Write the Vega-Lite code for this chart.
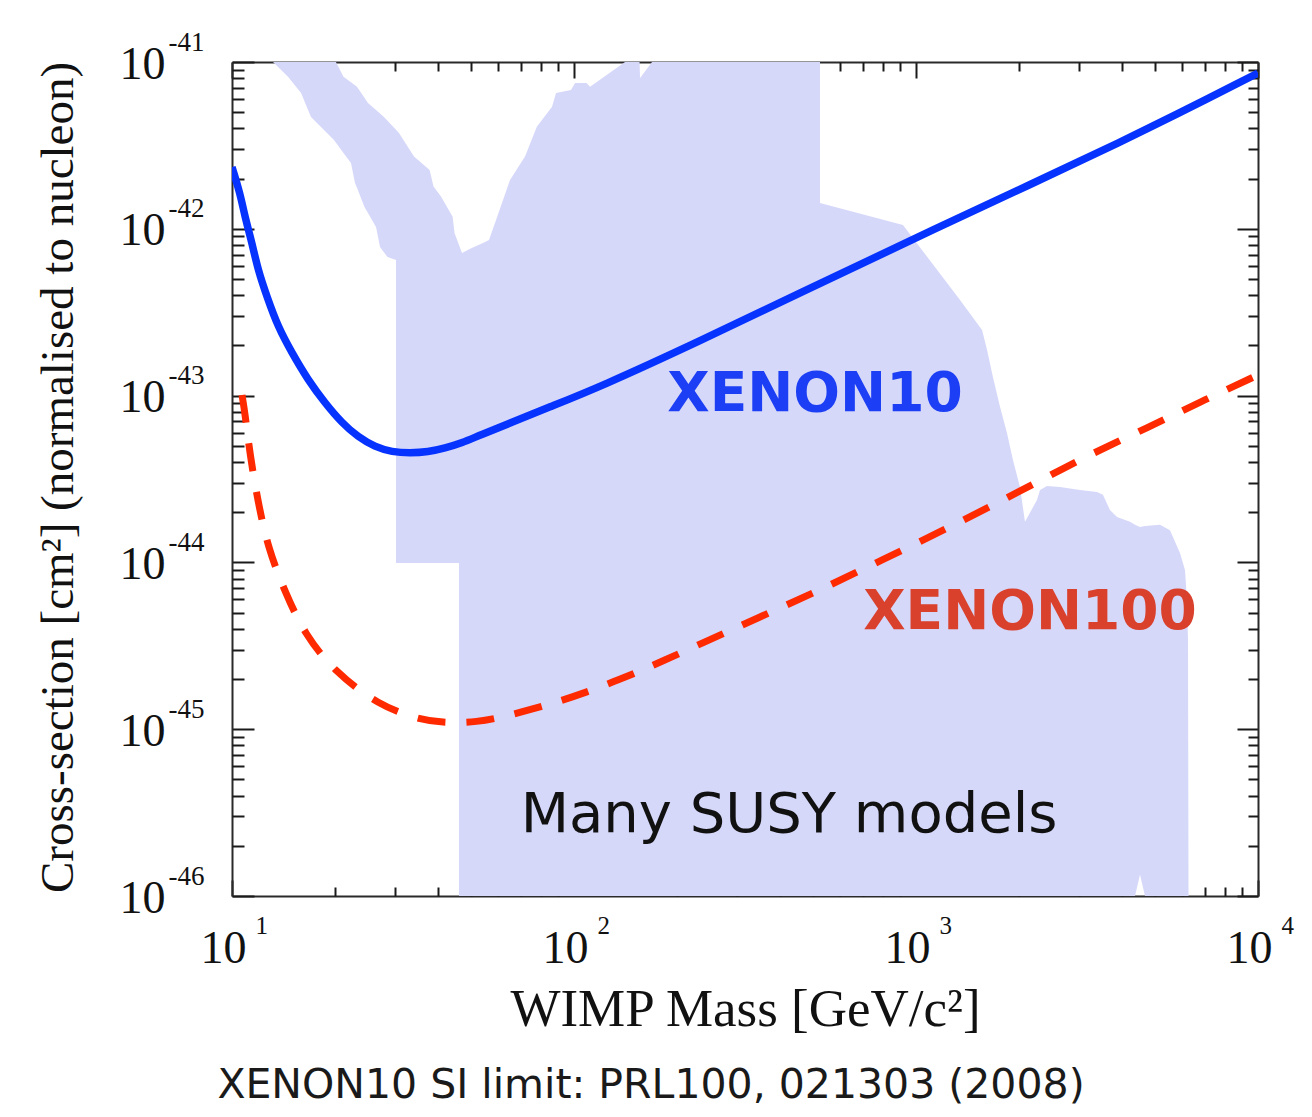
{
  "$schema": "https://vega.github.io/schema/vega-lite/v6.json",
  "width": 1026,
  "height": 834,
  "autosize": {"type": "none"},
  "padding": {"left": 232, "top": 62, "right": 54, "bottom": 221},
  "background": "white",
  "title": {
    "text": "XENON10 SI limit: PRL100, 021303 (2008)",
    "orient": "bottom",
    "anchor": "middle",
    "frame": "group",
    "dx": -94,
    "offset": 30,
    "baseline": "top",
    "font": "DejaVu Sans",
    "fontSize": 41,
    "fontWeight": "normal",
    "color": "#1a1a1a"
  },
  "config": {
    "view": {"stroke": null},
    "axis": {
      "zindex": 1,
      "grid": false,
      "labelFlush": false,
      "labelOverlap": false,
      "labelBound": false,
      "tickColor": "#1a1a1a",
      "tickWidth": 2,
      "domainColor": "#2a2a2a",
      "domainWidth": 2,
      "labelFont": "Liberation Serif",
      "labelColor": "#111111",
      "titleFont": "Liberation Serif",
      "titleColor": "#111111",
      "titleFontWeight": "normal"
    }
  },
  "resolve": {"axis": {"x": "independent", "y": "independent"}},
  "layer": [
    {
      "data": {"values": [
        {"m": 13.18, "top": 1e-41, "bot": 1e-41},
        {"m": 14.58, "top": 1e-41, "bot": 8.16e-42},
        {"m": 15.92, "top": 1e-41, "bot": 6.52e-42},
        {"m": 17.02, "top": 1e-41, "bot": 4.68e-42},
        {"m": 19.87, "top": 1e-41, "bot": 3.41e-42},
        {"m": 20.14, "top": 1e-41, "bot": 3.28e-42},
        {"m": 21.18, "top": 8.16e-42, "bot": 2.85e-42},
        {"m": 22.28, "top": 7.56e-42, "bot": 2.48e-42},
        {"m": 22.89, "top": 7.26e-42, "bot": 1.88e-42},
        {"m": 23.2, "top": 7.11e-42, "bot": 1.76e-42},
        {"m": 24.4, "top": 6.1e-42, "bot": 1.35e-42},
        {"m": 24.98, "top": 5.68e-42, "bot": 1.244e-42},
        {"m": 26.37, "top": 5.16e-42, "bot": 1.025e-42},
        {"m": 27.09, "top": 4.91e-42, "bot": 7.78e-43},
        {"m": 27.77, "top": 4.7e-42, "bot": 7.26e-43},
        {"m": 28.49, "top": 4.45e-42, "bot": 6.78e-43},
        {"m": 30.17, "top": 3.93e-42, "bot": 6.5e-43},
        {"m": 30.17, "top": 3.93e-42, "bot": 9.92e-45},
        {"m": 30.78, "top": 3.75e-42, "bot": 9.92e-45},
        {"m": 34.06, "top": 2.71e-42, "bot": 9.92e-45},
        {"m": 37.83, "top": 2.25e-42, "bot": 9.92e-45},
        {"m": 38.84, "top": 1.79e-42, "bot": 9.92e-45},
        {"m": 40.84, "top": 1.56e-42, "bot": 9.92e-45},
        {"m": 44.17, "top": 1.18e-42, "bot": 9.92e-45},
        {"m": 44.74, "top": 9.44e-43, "bot": 9.92e-45},
        {"m": 46.11, "top": 8.0e-43, "bot": 9.92e-45},
        {"m": 46.11, "top": 8.0e-43, "bot": 1e-46},
        {"m": 47.05, "top": 7.16e-43, "bot": 1e-46},
        {"m": 50.22, "top": 7.67e-43, "bot": 1e-46},
        {"m": 54.19, "top": 8.22e-43, "bot": 1e-46},
        {"m": 56.42, "top": 8.57e-43, "bot": 1e-46},
        {"m": 60.15, "top": 1.244e-42, "bot": 1e-46},
        {"m": 65.0, "top": 1.96e-42, "bot": 1e-46},
        {"m": 71.9, "top": 2.71e-42, "bot": 1e-46},
        {"m": 77.86, "top": 4.09e-42, "bot": 1e-46},
        {"m": 86.25, "top": 5.4e-42, "bot": 1e-46},
        {"m": 88.6, "top": 6.52e-42, "bot": 1e-46},
        {"m": 98.0, "top": 6.79e-42, "bot": 1e-46},
        {"m": 100.7, "top": 7.48e-42, "bot": 1e-46},
        {"m": 108.8, "top": 7.48e-42, "bot": 1e-46},
        {"m": 111.4, "top": 7.11e-42, "bot": 1e-46},
        {"m": 141.0, "top": 1e-41, "bot": 1e-46},
        {"m": 155.5, "top": 1e-41, "bot": 1e-46},
        {"m": 156.0, "top": 8.02e-42, "bot": 1e-46},
        {"m": 169.1, "top": 1e-41, "bot": 1e-46},
        {"m": 524, "top": 1e-41, "bot": 1e-46},
        {"m": 524, "top": 1.428e-42, "bot": 1e-46},
        {"m": 916, "top": 1.054e-42, "bot": 1e-46},
        {"m": 1345, "top": 3.74e-43, "bot": 1e-46},
        {"m": 1560, "top": 2.47e-43, "bot": 1e-46},
        {"m": 1613, "top": 1.88e-43, "bot": 1e-46},
        {"m": 1679, "top": 1.29e-43, "bot": 1e-46},
        {"m": 1761, "top": 8.54e-44, "bot": 1e-46},
        {"m": 1845, "top": 5.97e-44, "bot": 1e-46},
        {"m": 1921, "top": 4.11e-44, "bot": 1e-46},
        {"m": 2014, "top": 2.83e-44, "bot": 1e-46},
        {"m": 2083, "top": 1.75e-44, "bot": 1e-46},
        {"m": 2258, "top": 2.37e-44, "bot": 1e-46},
        {"m": 2305, "top": 2.72e-44, "bot": 1e-46},
        {"m": 2416, "top": 2.87e-44, "bot": 1e-46},
        {"m": 2637, "top": 2.83e-44, "bot": 1e-46},
        {"m": 3017, "top": 2.72e-44, "bot": 1e-46},
        {"m": 3382, "top": 2.64e-44, "bot": 1e-46},
        {"m": 3521, "top": 2.54e-44, "bot": 1e-46},
        {"m": 3691, "top": 2.06e-44, "bot": 1e-46},
        {"m": 3871, "top": 1.87e-44, "bot": 1e-46},
        {"m": 4224, "top": 1.75e-44, "bot": 1e-46},
        {"m": 4369, "top": 1.68e-44, "bot": 1e-46},
        {"m": 4518, "top": 1.63e-44, "bot": 1.34e-46},
        {"m": 4673, "top": 1.65e-44, "bot": 1e-46},
        {"m": 5169, "top": 1.68e-44, "bot": 1e-46},
        {"m": 5529, "top": 1.56e-44, "bot": 1e-46},
        {"m": 5914, "top": 1.14e-44, "bot": 1e-46},
        {"m": 6117, "top": 9.0e-45, "bot": 1e-46},
        {"m": 6200, "top": 5.95e-45, "bot": 1e-46},
        {"m": 6242, "top": 3.43e-45, "bot": 1e-46},
        {"m": 6263, "top": 1e-46, "bot": 1e-46}
      ]},
      "mark": {"type": "area", "color": "#d6d8fa", "opacity": 1, "clip": true, "interpolate": "linear"},
      "encoding": {
        "x": {
          "field": "m", "type": "quantitative",
          "scale": {"type": "log", "domain": [10, 10000], "nice": false},
          "axis": {
            "orient": "bottom",
            "values": [10, 100, 1000, 10000],
            "domain": true,
            "ticks": true,
            "tickSize": -16,
            "labelExpr": "'10'",
            "labelFontSize": 46,
            "labelAlign": "center",
            "labelBaseline": "alphabetic",
            "labelOffset": -9,
            "labelPadding": 82,
            "title": "WIMP Mass [GeV/c²]",
            "titleFontSize": 53,
            "titleX": 513,
            "titleY": 129,
            "titleAlign": "center",
            "titleBaseline": "alphabetic",
            "titleAngle": 0
          }
        },
        "y": {
          "field": "top", "type": "quantitative",
          "scale": {"type": "log", "domain": [1e-46, 1e-41], "nice": false},
          "axis": {
            "orient": "left",
            "values": [1e-46, 1e-45, 1e-44, 1e-43, 1e-42, 1e-41],
            "domain": true,
            "ticks": true,
            "tickSize": -22,
            "labelExpr": "'10'",
            "labelFontSize": 46,
            "labelAlign": "right",
            "labelBaseline": "alphabetic",
            "labelOffset": 16,
            "labelPadding": 89,
            "title": "Cross-section [cm²] (normalised to nucleon)",
            "titleFontSize": 47,
            "titleX": -160,
            "titleY": 415,
            "titleAngle": 270,
            "titleAlign": "center",
            "titleBaseline": "alphabetic"
          }
        },
        "y2": {"field": "bot"}
      }
    },
    {
      "data": {"values": [
        {"m": 10, "s": 2.347e-42},
        {"m": 10.553, "s": 1.639e-42},
        {"m": 10.914, "s": 1.177e-42},
        {"m": 11.441, "s": 8.22e-43},
        {"m": 11.913, "s": 5.662e-43},
        {"m": 12.661, "s": 3.901e-43},
        {"m": 13.632, "s": 2.578e-43},
        {"m": 14.979, "s": 1.8e-43},
        {"m": 16.681, "s": 1.24e-43},
        {"m": 18.7, "s": 9.03e-44},
        {"m": 20.97, "s": 6.851e-44},
        {"m": 23.36, "s": 5.646e-44},
        {"m": 26.19, "s": 4.919e-44},
        {"m": 29.37, "s": 4.59e-44},
        {"m": 33.15, "s": 4.528e-44},
        {"m": 37.42, "s": 4.59e-44},
        {"m": 41.96, "s": 4.852e-44},
        {"m": 47.03, "s": 5.197e-44},
        {"m": 53.11, "s": 5.804e-44},
        {"m": 66.31, "s": 6.947e-44},
        {"m": 83.38, "s": 8.425e-44},
        {"m": 119.1, "s": 1.126e-43},
        {"m": 233.6, "s": 2.125e-43},
        {"m": 458.0, "s": 4.122e-43},
        {"m": 1006.7, "s": 8.93e-43},
        {"m": 4310, "s": 3.55e-42},
        {"m": 10000, "s": 8.591e-42}
      ]},
      "mark": {"type": "line", "color": "#0633ff", "strokeWidth": 7.5, "interpolate": "basis", "clip": true},
      "encoding": {
        "x": {
          "field": "m", "type": "quantitative",
          "axis": {
            "orient": "bottom",
            "values": [10, 100, 1000, 10000],
            "domain": false,
            "ticks": false,
            "labelExpr": "'' + round(log(datum.value) / LN10)",
            "labelFontSize": 25,
            "labelAlign": "left",
            "labelBaseline": "alphabetic",
            "labelOffset": 23,
            "labelPadding": 37,
            "title": null
          }
        },
        "y": {
          "field": "s", "type": "quantitative",
          "axis": {
            "orient": "left",
            "values": [1e-46, 1e-45, 1e-44, 1e-43, 1e-42, 1e-41],
            "domain": false,
            "ticks": false,
            "labelExpr": "'' + round(log(datum.value) / LN10)",
            "labelFontSize": 27,
            "labelAlign": "left",
            "labelBaseline": "alphabetic",
            "labelOffset": -12,
            "labelPadding": 64,
            "title": null
          }
        }
      }
    },
    {
      "data": {"values": [
        {"m": 10.696, "s": 1.008e-43},
        {"m": 10.914, "s": 7.862e-44},
        {"m": 11.288, "s": 4.405e-44},
        {"m": 11.913, "s": 2.302e-44},
        {"m": 12.746, "s": 1.22e-44},
        {"m": 14.287, "s": 6.646e-45},
        {"m": 16.35, "s": 3.67e-45},
        {"m": 20.01, "s": 2.203e-45},
        {"m": 26.72, "s": 1.397e-45},
        {"m": 35.45, "s": 1.135e-45},
        {"m": 42.53, "s": 1.089e-45},
        {"m": 52.05, "s": 1.104e-45},
        {"m": 61.99, "s": 1.183e-45},
        {"m": 75.88, "s": 1.322e-45},
        {"m": 91.0, "s": 1.476e-45},
        {"m": 109.1, "s": 1.671e-45},
        {"m": 130.0, "s": 1.919e-45},
        {"m": 156.0, "s": 2.234e-45},
        {"m": 182.1, "s": 2.564e-45},
        {"m": 233.6, "s": 3.242e-45},
        {"m": 349.9, "s": 4.707e-45},
        {"m": 524.1, "s": 6.832e-45},
        {"m": 784.9, "s": 1.02e-44},
        {"m": 1257, "s": 1.63e-44},
        {"m": 1725, "s": 2.271e-44},
        {"m": 2416, "s": 3.251e-44},
        {"m": 3293, "s": 4.528e-44},
        {"m": 4736, "s": 6.393e-44},
        {"m": 6768, "s": 9.155e-44},
        {"m": 10000, "s": 1.329e-43}
      ]},
      "mark": {"type": "line", "color": "#ff2a00", "strokeWidth": 7, "strokeDash": [28, 21], "strokeCap": "butt", "interpolate": "basis", "clip": true},
      "encoding": {
        "x": {
          "field": "m", "type": "quantitative",
          "axis": {
            "orient": "bottom",
            "values": [20, 30, 40, 50, 60, 70, 80, 90, 200, 300, 400, 500, 600, 700, 800, 900, 2000, 3000, 4000, 5000, 6000, 7000, 8000, 9000],
            "domain": false,
            "ticks": true,
            "tickSize": -9,
            "labels": false,
            "title": null
          }
        },
        "y": {
          "field": "s", "type": "quantitative",
          "axis": {
            "orient": "left",
            "values": [2e-46, 3e-46, 4e-46, 5e-46, 6e-46, 7e-46, 8e-46, 9e-46, 2e-45, 3e-45, 4e-45, 5e-45, 6e-45, 7e-45, 8e-45, 9e-45, 2e-44, 3e-44, 4e-44, 5e-44, 6e-44, 7e-44, 8e-44, 9e-44, 2e-43, 3e-43, 4e-43, 5e-43, 6e-43, 7e-43, 8e-43, 9e-43, 2e-42, 3e-42, 4e-42, 5e-42, 6e-42, 7e-42, 8e-42, 9e-42],
            "domain": false,
            "ticks": true,
            "tickSize": -12,
            "labels": false,
            "title": null
          }
        }
      }
    },
    {
      "data": {"values": [{"label": "XENON10", "m": 506.7, "s": 8.08e-44}]},
      "mark": {"type": "text", "font": "DejaVu Sans", "fontWeight": "bold", "fontSize": 55, "color": "#1c3ef4", "align": "center", "baseline": "alphabetic"},
      "encoding": {
        "text": {"field": "label"},
        "x": {
          "field": "m", "type": "quantitative",
          "axis": {
            "orient": "top",
            "values": [10, 100, 1000, 10000],
            "domain": true,
            "ticks": true,
            "tickSize": -16,
            "labels": false,
            "title": null
          }
        },
        "y": {
          "field": "s", "type": "quantitative",
          "axis": {
            "orient": "right",
            "values": [1e-46, 1e-45, 1e-44, 1e-43, 1e-42, 1e-41],
            "domain": true,
            "ticks": true,
            "tickSize": -21,
            "labels": false,
            "title": null
          }
        }
      }
    },
    {
      "data": {"values": [{"label": "XENON100", "m": 2154, "s": 3.988e-45}]},
      "mark": {"type": "text", "font": "DejaVu Sans", "fontWeight": "bold", "fontSize": 55, "color": "#d9412d", "align": "center", "baseline": "alphabetic"},
      "encoding": {
        "text": {"field": "label"},
        "x": {
          "field": "m", "type": "quantitative",
          "axis": {
            "orient": "top",
            "values": [20, 30, 40, 50, 60, 70, 80, 90, 200, 300, 400, 500, 600, 700, 800, 900, 2000, 3000, 4000, 5000, 6000, 7000, 8000, 9000],
            "domain": false,
            "ticks": true,
            "tickSize": -9,
            "labels": false,
            "title": null
          }
        },
        "y": {
          "field": "s", "type": "quantitative",
          "axis": {
            "orient": "right",
            "values": [2e-46, 3e-46, 4e-46, 5e-46, 6e-46, 7e-46, 8e-46, 9e-46, 2e-45, 3e-45, 4e-45, 5e-45, 6e-45, 7e-45, 8e-45, 9e-45, 2e-44, 3e-44, 4e-44, 5e-44, 6e-44, 7e-44, 8e-44, 9e-44, 2e-43, 3e-43, 4e-43, 5e-43, 6e-43, 7e-43, 8e-43, 9e-43, 2e-42, 3e-42, 4e-42, 5e-42, 6e-42, 7e-42, 8e-42, 9e-42],
            "domain": false,
            "ticks": true,
            "tickSize": -10,
            "labels": false,
            "title": null
          }
        }
      }
    },
    {
      "data": {"values": [{"label": "Many SUSY models", "m": 425.3, "s": 2.419e-46}]},
      "mark": {"type": "text", "font": "DejaVu Sans", "fontWeight": "normal", "fontSize": 56, "color": "#111111", "align": "center", "baseline": "alphabetic"},
      "encoding": {
        "text": {"field": "label"},
        "x": {"field": "m", "type": "quantitative", "axis": null},
        "y": {"field": "s", "type": "quantitative", "axis": null}
      }
    }
  ]
}
